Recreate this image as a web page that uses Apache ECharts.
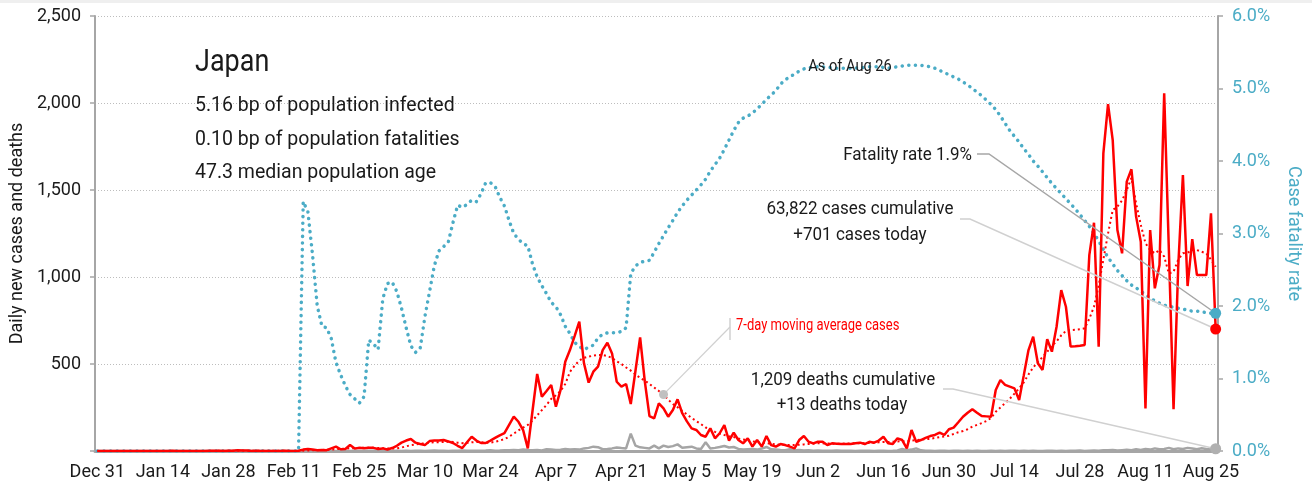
<!DOCTYPE html>
<html><head><meta charset="utf-8">
<script src="https://cdn.jsdelivr.net/npm/echarts/dist/echarts.min.js"></script>
<style>html,body{margin:0;padding:0;background:#fff}#c{width:1312px;height:491px}</style>
</head><body><div id="c"></div>
<script>
// ---- data (Dec 31 2019 .. Aug 26 2020, one value per day) ----
const startDay = [2019, 11, 31];
const dayCount = 240;
const monthNames = ['Jan','Feb','Mar','Apr','May','Jun','Jul','Aug','Sep','Oct','Nov','Dec'];

const dailyCases = [
0,0,0,0,0,0,0,0,0,0,
0,0,0,0,0,0,1,0,0,0,
0,0,0,0,1,1,2,0,2,1,
4,3,3,0,1,0,0,0,0,0,
2,0,0,1,8,12,8,4,6,5,
15,25,10,12,34,14,18,16,18,18,
12,15,9,17,30,48,60,69,48,40,
34,57,60,60,63,55,46,30,17,50,
82,60,46,46,60,75,90,103,150,197,
168,120,15,230,443,312,345,379,255,351,
513,580,660,743,504,393,456,485,580,622,
561,398,370,385,270,460,653,400,200,188,
274,245,197,236,297,217,170,130,121,92,
82,130,73,102,149,59,105,63,44,73,
25,63,25,86,34,25,40,34,25,15,
63,86,53,44,53,53,34,44,42,40,
40,40,44,48,40,53,48,60,82,44,
40,73,63,15,121,53,63,75,86,92,
105,92,125,134,165,197,220,240,220,201,
199,197,351,408,380,370,360,293,436,580,
657,504,466,642,571,714,925,829,600,602,
605,609,1126,1312,600,1711,1994,1787,1270,1136,
1548,1619,1347,1203,245,1270,935,1069,2056,1155,
240,1059,1586,948,1217,1011,1011,1011,1366,701
];

const movingAvgCases = [
0,0,0,0,0,0,0,0,0,0,
0,0,0,0,0,0,0,0,0,0,
0,0,0,0,0,0,1,1,1,1,
1,2,2,2,2,2,2,1,1,1,
1,1,0,0,2,3,4,5,6,7,
8,11,12,13,16,17,18,19,18,18,
17,16,15,14,15,20,27,34,38,42,
44,48,50,50,52,54,52,48,45,47,
50,52,50,48,48,53,60,68,82,100,
118,135,150,175,205,235,265,300,320,345,
385,455,490,520,535,542,548,552,552,545,
535,515,500,480,462,440,420,405,385,365,
345,325,295,270,252,230,210,190,172,155,
135,125,110,100,92,85,80,72,66,62,
56,50,47,45,41,38,36,34,34,34,
36,38,40,42,44,44,43,42,42,42,
43,44,44,45,45,46,48,50,52,52,
53,55,56,55,60,62,65,68,70,75,
80,84,88,98,108,115,125,140,150,160,
172,190,225,250,275,300,330,360,395,440,
480,510,540,570,605,630,665,690,695,697,
700,705,760,830,950,1100,1250,1385,1405,1440,
1500,1570,1423,1300,1194,1155,1136,1155,1117,1020,
1030,1100,1136,1140,1155,1155,1145,1136,1100,1059
];

const dailyDeaths = [
0,0,0,0,0,0,0,0,0,0,
0,0,0,0,0,0,0,0,0,0,
0,0,0,0,0,0,0,0,0,0,
0,0,0,0,0,0,0,0,0,0,
0,0,0,0,1,0,0,0,0,0,
0,0,1,0,0,1,0,0,1,2,
0,1,1,0,1,0,2,0,1,1,
0,2,3,2,1,0,2,1,3,1,
2,1,2,3,5,2,3,5,4,6,
5,8,6,5,6,3,10,8,6,7,
12,9,10,8,15,18,25,22,10,12,
15,20,17,15,100,31,21,18,15,31,
15,31,23,28,38,19,22,25,15,12,
50,15,18,23,29,20,23,12,8,10,
12,8,14,23,10,8,6,5,10,4,
6,3,5,2,3,2,1,2,3,1,
2,1,0,1,2,1,0,1,2,0,
1,3,12,5,8,15,4,2,1,0,
1,2,0,1,1,0,2,0,1,0,
0,1,0,1,0,2,1,0,1,0,
1,0,0,2,1,0,1,0,2,1,
3,0,2,3,2,5,4,6,3,5,
7,5,10,6,12,8,15,10,12,18,
10,15,12,18,14,10,16,12,9,13
];

const fatalityRatePct = [
0,0,0,0,0,0,0,0,0,0,
0,0,0,0,0,0,0,0,0,0,
0,0,0,0,0,0,0,0,0,0,
0,0,0,0,0,0,0,0,0,0,
0,0,0,0,3.44,3.30,2.70,2.00,1.72,1.70,
1.55,1.22,1.05,0.90,0.78,0.72,0.66,0.75,1.53,1.48,
1.40,2.10,2.31,2.33,2.20,1.97,1.70,1.45,1.36,1.42,
1.85,2.20,2.55,2.76,2.82,2.88,3.15,3.39,3.36,3.40,
3.46,3.44,3.55,3.70,3.70,3.65,3.50,3.38,3.18,3.00,
2.92,2.86,2.83,2.58,2.40,2.28,2.17,2.05,1.99,1.88,
1.72,1.62,1.50,1.44,1.40,1.43,1.46,1.56,1.61,1.63,
1.63,1.63,1.65,1.70,2.45,2.55,2.60,2.62,2.63,2.74,
2.86,2.97,3.08,3.18,3.29,3.38,3.46,3.53,3.60,3.67,
3.75,3.86,3.95,4.04,4.16,4.29,4.42,4.53,4.59,4.62,
4.66,4.72,4.78,4.85,4.91,4.97,5.06,5.12,5.16,5.20,
5.24,5.27,5.29,5.29,5.30,5.30,5.29,5.29,5.28,5.28,
5.28,5.28,5.28,5.29,5.29,5.30,5.30,5.30,5.29,5.28,
5.29,5.30,5.31,5.32,5.32,5.32,5.32,5.31,5.30,5.28,
5.25,5.22,5.19,5.16,5.13,5.09,5.05,5.00,4.95,4.90,
4.84,4.78,4.71,4.62,4.52,4.42,4.34,4.26,4.17,4.09,
4.00,3.93,3.85,3.77,3.69,3.62,3.55,3.48,3.41,3.34,
3.26,3.18,3.10,3.00,2.90,2.78,2.67,2.58,2.49,2.42,
2.35,2.29,2.25,2.20,2.16,2.11,2.07,2.04,2.01,2.00,
1.98,1.97,1.96,1.94,1.93,1.93,1.92,1.91,1.90,1.90
];

const leftTicks = [0, 500, 1000, 1500, 2000, 2500];
const rightTicks = [0, 1, 2, 3, 4, 5, 6];

const titleLines = ['Japan', '5.16 bp of population infected', '0.10 bp of population fatalities', '47.3 median population age'];
const asOfText = 'As of Aug 26';
const fatalityText = 'Fatality rate 1.9%';
const casesText = ['63,822 cases cumulative', '+701 cases today'];
const deathsText = ['1,209 deaths cumulative', '+13 deaths today'];
const maText = '7-day moving average cases';
const maMarkerDay = 121;

// categories
const categories = [];
for (let i = 0; i < dayCount; i++) {
  const d = new Date(Date.UTC(startDay[0], startDay[1], startDay[2] + i));
  categories.push(monthNames[d.getUTCMonth()] + ' ' + d.getUTCDate());
}

const FONT = 'Roboto';
const RED = '#ff0000', BLUE = '#4bacc6', GRAY = '#a5a5a5', TXT = '#1a1a1a';

const chart = echarts.init(document.getElementById('c'), null, {renderer: 'canvas'});
const option = {
  animation: false,
  backgroundColor: '#ffffff',
  textStyle: {fontFamily: FONT},
  grid: {left: 95, right: 94, top: 16, bottom: 40, containLabel: false},
  xAxis: {
    type: 'category', data: categories, boundaryGap: true,
    axisLine: {lineStyle: {color: '#a6a6a6', width: 3}},
    axisTick: {interval: 13, length: 6, lineStyle: {color: '#a6a6a6', width: 1.5}},
    axisLabel: {interval: 13, color: TXT, fontSize: 18, margin: 12, fontFamily: FONT},
    splitLine: {show: false}
  },
  yAxis: [{
    type: 'value', min: leftTicks[0], max: leftTicks[leftTicks.length - 1], interval: 500,
    axisLine: {show: true, lineStyle: {color: '#a6a6a6', width: 2}},
    axisTick: {show: true, length: 5, lineStyle: {color: '#a6a6a6', width: 1.5}},
    axisLabel: {color: TXT, fontSize: 18, margin: 14, fontFamily: FONT,
      formatter: v => v === 0 ? '' : v.toLocaleString('en-US')},
    splitLine: {show: true, lineStyle: {color: '#bdbdbd', type: [1, 2], width: 1}},
    name: 'Daily new cases and deaths', nameLocation: 'middle', nameGap: 68, nameRotate: 90,
    nameTextStyle: {color: TXT, fontSize: 18, fontFamily: FONT}
  }, {
    type: 'value', position: 'right', min: rightTicks[0], max: rightTicks[rightTicks.length - 1], interval: 1,
    axisLine: {show: true, lineStyle: {color: '#a6a6a6', width: 2}},
    axisTick: {show: true, length: 5, lineStyle: {color: '#a6a6a6', width: 1.5}},
    axisLabel: {color: BLUE, fontSize: 18, margin: 14, fontFamily: FONT,
      formatter: v => v.toFixed(1) + '%'},
    splitLine: {show: false},
    name: 'Case fatality rate', nameLocation: 'middle', nameGap: 66, nameRotate: -90,
    nameTextStyle: {color: BLUE, fontSize: 18, fontFamily: FONT}
  }],
  series: [{
    name: 'CFR', type: 'line', yAxisIndex: 1, data: fatalityRatePct, showSymbol: false, z: 2,
    lineStyle: {color: BLUE, width: 3.5, type: [0.1, 6.5], cap: 'round'}
  }, {
    name: 'Deaths', type: 'line', yAxisIndex: 0, data: dailyDeaths, showSymbol: false, z: 3,
    lineStyle: {color: GRAY, width: 2.5}
  }, {
    name: 'MA', type: 'line', yAxisIndex: 0, data: movingAvgCases, showSymbol: false, z: 4,
    lineStyle: {color: RED, width: 2, type: [2, 3]}
  }, {
    name: 'Cases', type: 'line', yAxisIndex: 0, data: dailyCases, showSymbol: false, z: 5,
    lineStyle: {color: RED, width: 2.5}
  }]
};
chart.setOption(option);

const last = dayCount - 1;
const pL = (i, v) => chart.convertToPixel({xAxisIndex: 0, yAxisIndex: 0}, [i, v]);
const pR = (i, v) => chart.convertToPixel({xAxisIndex: 0, yAxisIndex: 1}, [i, v]);
const endCase = pL(last, dailyCases[last]);
const endDeath = pL(last, dailyDeaths[last]);
const endCfr = pR(last, fatalityRatePct[last]);
const maPt = pL(maMarkerDay, movingAvgCases[maMarkerDay]);

const txt = (x, y, s, size, align, color, sy) => ({
  type: 'text', x: x, y: y, silent: true, z: 100, scaleY: sy || 1,
  style: {text: s, fill: color || TXT, font: size + 'px ' + FONT, align: align || 'left', verticalAlign: 'middle'}
});
const line = (pts, color, w) => ({type: 'polyline', silent: true, z: 90,
  shape: {points: pts}, style: {stroke: color, lineWidth: w || 1.5, fill: null}});
const dot = (p, r, color) => ({type: 'circle', silent: true, z: 110, shape: {cx: p[0], cy: p[1], r: r}, style: {fill: color}});

chart.setOption({graphic: [
  {type: 'rect', silent: true, shape: {x: 0, y: 0, width: 1312, height: 3}, style: {fill: '#efefef'}},
  txt(195, 63, titleLines[0], 27, 'left', TXT, 1.15),
  txt(195, 106, titleLines[1], 19.5),
  txt(195, 140, titleLines[2], 19.5),
  txt(195, 173, titleLines[3], 19.5),
  txt(850, 67, asOfText, 14.6, 'center', TXT, 1.15),
  txt(972, 155, fatalityText, 17, 'right', TXT, 1.1),
  txt(860, 209, casesText[0], 17, 'center', TXT, 1.1),
  txt(860, 235, casesText[1], 17, 'center', TXT, 1.1),
  txt(843, 380, deathsText[0], 17, 'center', TXT, 1.1),
  txt(842, 405, deathsText[1], 17, 'center', TXT, 1.1),
  txt(736, 326, maText, 13, 'left', RED, 1.2),
  line([[977, 154], [989, 154], endCfr], '#a6a6a6', 1.5),
  line([[960, 219], [970, 219], endCase], '#d0d0d0', 1.5),
  line([[943, 389], [953, 389], endDeath], '#d0d0d0', 1.5),
  line([[730, 318], [730, 340]], '#d0d0d0', 1.5),
  line([[730, 327], maPt], '#d0d0d0', 1.2),
  dot(maPt, 4.5, '#c0c0c0'),
  dot(endCfr, 5.5, BLUE),
  dot(endCase, 5.5, RED),
  dot(endDeath, 5.5, '#b0b0b0')
]});
</script>
</body></html>
